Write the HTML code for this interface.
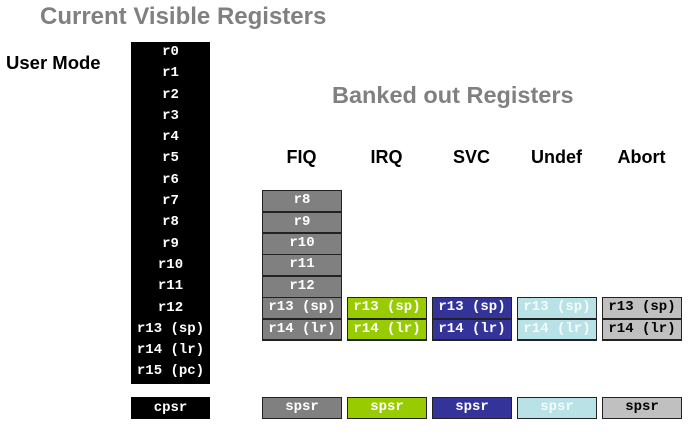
<!DOCTYPE html>
<html><head><meta charset="utf-8"><style>
body{margin:0;width:699px;height:448px;background:#fff;position:relative;overflow:hidden;font-family:"Liberation Sans",sans-serif}
.t{position:absolute;font-weight:bold;white-space:nowrap}
.b{position:absolute;box-sizing:border-box;font-family:"Liberation Mono",monospace;font-weight:bold;font-size:14px;text-align:center;color:#fff}
.col{position:absolute;background:#000;left:131px;top:42px;width:79px;height:342px}
.col div{height:21.3px;line-height:21.3px;text-align:center;color:#fff;font-family:"Liberation Mono",monospace;font-weight:bold;font-size:14px}
</style></head><body>
<div class="t" style="left:40px;top:3px;font-size:24px;color:#808080">Current Visible Registers</div>
<div class="t" style="left:6px;top:52px;font-size:18.5px;color:#000">User Mode</div>
<div class="t" style="left:332px;top:82px;font-size:23.5px;color:#808080">Banked out Registers</div>
<div class="col" id="uc"></div>
<div class="b" style="left:131px;top:397px;width:79px;height:22px;line-height:22px;background:#000">cpsr</div>
<div id="banks"></div>
<script>
const userRegs=["r0","r1","r2","r3","r4","r5","r6","r7","r8","r9","r10","r11","r12","r13 (sp)","r14 (lr)","r15 (pc)"];
const uc=document.getElementById('uc');
userRegs.forEach(r=>{const d=document.createElement('div');d.textContent=r;


uc.appendChild(d);});
const modes=[
 {n:"FIQ",x:262,bg:"#808080",fg:"#fff",regs:["r8","r9","r10","r11","r12","r13 (sp)","r14 (lr)"]},
 {n:"IRQ",x:347,bg:"#99cc00",fg:"#fff",regs:["r13 (sp)","r14 (lr)"]},
 {n:"SVC",x:432,bg:"#333399",fg:"#fff",regs:["r13 (sp)","r14 (lr)"]},
 {n:"Undef",x:517,bg:"#b8e2e6",fg:"#f4fbfb",regs:["r13 (sp)","r14 (lr)"]},
 {n:"Abort",x:602,bg:"#c0c0c0",fg:"#000",regs:["r13 (sp)","r14 (lr)"]}];
const bk=document.getElementById('banks');
const rowH=21.4, bottom=340;
modes.forEach(m=>{
 const h=document.createElement('div');h.className='t';h.textContent=m.n;
 
 
 h.style.cssText=`left:${m.x-5}px;width:89px;text-align:center;top:147px;font-size:18px;color:#000`;
 bk.appendChild(h);
 const g=document.createElement('div');
 
 
 const top=bottom-m.regs.length*rowH;
 g.style.cssText=`position:absolute;left:${m.x}px;top:${top}px;width:80px;height:${m.regs.length*rowH+1}px;background:#222;border:1.5px solid #222;box-sizing:border-box`;
 m.regs.forEach((r,i)=>{const c=document.createElement('div');c.textContent=r;
  
  
  c.style.cssText=`height:${rowH-1.5}px;line-height:${rowH-1.5}px;margin-bottom:1.5px;background:${m.bg};color:${m.fg};text-align:center;font-family:"Liberation Mono",monospace;font-weight:bold;font-size:14px`;
  g.appendChild(c);});
 bk.appendChild(g);
 const s=document.createElement('div');s.className='b';s.textContent='spsr';
 
 
 s.style.cssText=`left:${m.x}px;top:397px;width:80px;height:22px;line-height:19px;background:${m.bg};color:${m.fg};border:1.5px solid #222`;
 bk.appendChild(s);
});
</script>
</body></html>
